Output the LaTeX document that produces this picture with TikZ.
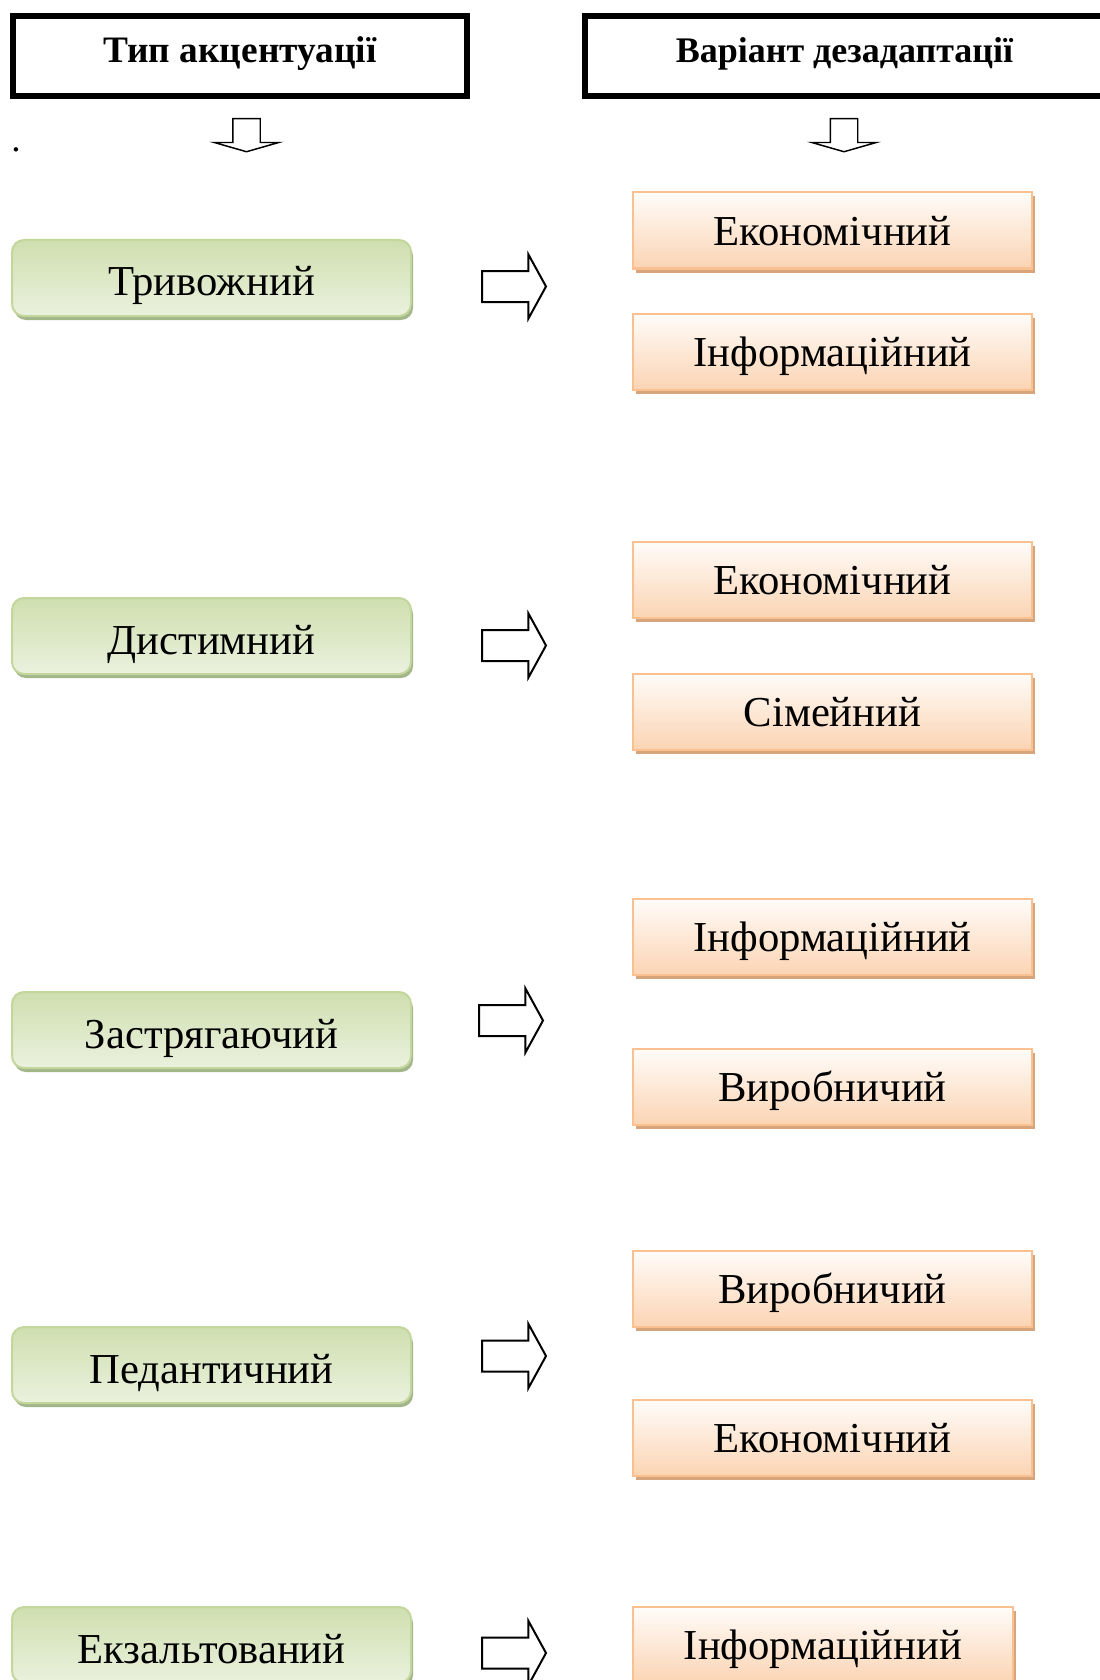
\documentclass[tikz,border=0pt]{standalone}
\usepackage{fontspec}
\setmainfont{Liberation Serif}
\usetikzlibrary{shapes.arrows,shadows}
\definecolor{gline}{HTML}{C3D69B}
\definecolor{gtop}{HTML}{CFDFAF}
\definecolor{gbot}{HTML}{EBF1DE}
\definecolor{gshadow}{HTML}{A3B689}
\definecolor{oline}{HTML}{FAC090}
\definecolor{otop}{HTML}{FFFCF9}
\definecolor{obot}{HTML}{FBD4B3}
\definecolor{oshadow}{HTML}{D6A57C}
\begin{document}
\begin{tikzpicture}[x=0.75pt,y=-0.75pt,
  headbox/.style={draw=black,line width=4.5pt,minimum height=60pt,inner sep=0pt,
    font=\bfseries\fontsize{28pt}{30pt}\selectfont,text height=10.5pt,text depth=0pt},
  greenbox/.style={draw=gline,line width=1.5pt,rounded corners=9pt,
    top color=gtop,bottom color=gbot,
    drop shadow={shadow xshift=1.5pt,shadow yshift=-3pt,fill=gshadow,opacity=1},
    minimum width=299.25pt,minimum height=57pt,inner sep=0pt,
    font=\fontsize{32pt}{35pt}\selectfont,text height=27pt,text depth=0pt},
  orangebox/.style={draw=oline,line width=1.5pt,
    top color=otop,bottom color=obot,
    drop shadow={shadow xshift=2.25pt,shadow yshift=-3pt,fill=oshadow,opacity=1},
    minimum width=299.25pt,minimum height=57pt,inner sep=0pt,
    font=\fontsize{32pt}{35pt}\selectfont,text height=22pt,text depth=0pt},
  rarrow/.style={single arrow,draw=black,line width=1.5pt,fill=white,
    inner xsep=0pt,inner ysep=10.875pt,minimum height=48pt,minimum width=46.5pt,
    single arrow head extend=12.375pt,single arrow tip angle=122.5,
    single arrow head indent=0pt,anchor=tail},
  darrow/.style={single arrow,draw=black,line width=1.1pt,fill=white,
    shape border rotate=270,
    inner xsep=9.75pt,inner ysep=0pt,minimum height=24.75pt,minimum width=47.25pt,
    single arrow head extend=13.875pt,single arrow tip angle=148,
    single arrow head indent=0pt,anchor=tail}
]
\useasboundingbox (0,0) rectangle (1099,1680);

% headers
\node[headbox,minimum width=340.5pt] (hl) at (240,56) {Тип акцентуації};
\node[headbox,minimum width=389.25pt,font=\bfseries\fontsize{27pt}{29pt}\selectfont] (hr) at (844.5,56) {Варіант дезадаптації};
\node[darrow] (dl) at (246.5,118) {};
\node[darrow] (dr) at (844,118) {};
\node[anchor=base west,inner sep=0pt,font=\fontsize{28pt}{30pt}\selectfont] (dot) at (11,152) {.};

% left column
\node[greenbox] (g1) at (211.5,278) {Тривожний};
\node[greenbox] (g2) at (211.5,636) {Дистимний};
\node[greenbox] (g3) at (211.5,1030) {Застрягаючий};
\node[greenbox] (g4) at (211.5,1365) {Педантичний};
\node[greenbox] (g5) at (211.5,1645) {Екзальтований};

% arrows
\node[rarrow] (a1) at (481,286.5) {};
\node[rarrow] (a2) at (481,645.5) {};
\node[rarrow] (a3) at (478,1020.5) {};
\node[rarrow] (a4) at (481,1356) {};
\node[rarrow] (a5) at (481,1653) {};

% right column
\node[orangebox] (o1) at (832.5,230.5) {Економічний};
\node[orangebox] (o2) at (832.5,352) {Інформаційний};
\node[orangebox] (o3) at (832.5,580) {Економічний};
\node[orangebox] (o4) at (832.5,711.5) {Сімейний};
\node[orangebox] (o5) at (832.5,937) {Інформаційний};
\node[orangebox] (o6) at (832.5,1087) {Виробничий};
\node[orangebox] (o7) at (832.5,1289) {Виробничий};
\node[orangebox] (o8) at (832.5,1438) {Економічний};
\node[orangebox,minimum width=285pt] (o9) at (823,1645) {Інформаційний};
\end{tikzpicture}
\end{document}
